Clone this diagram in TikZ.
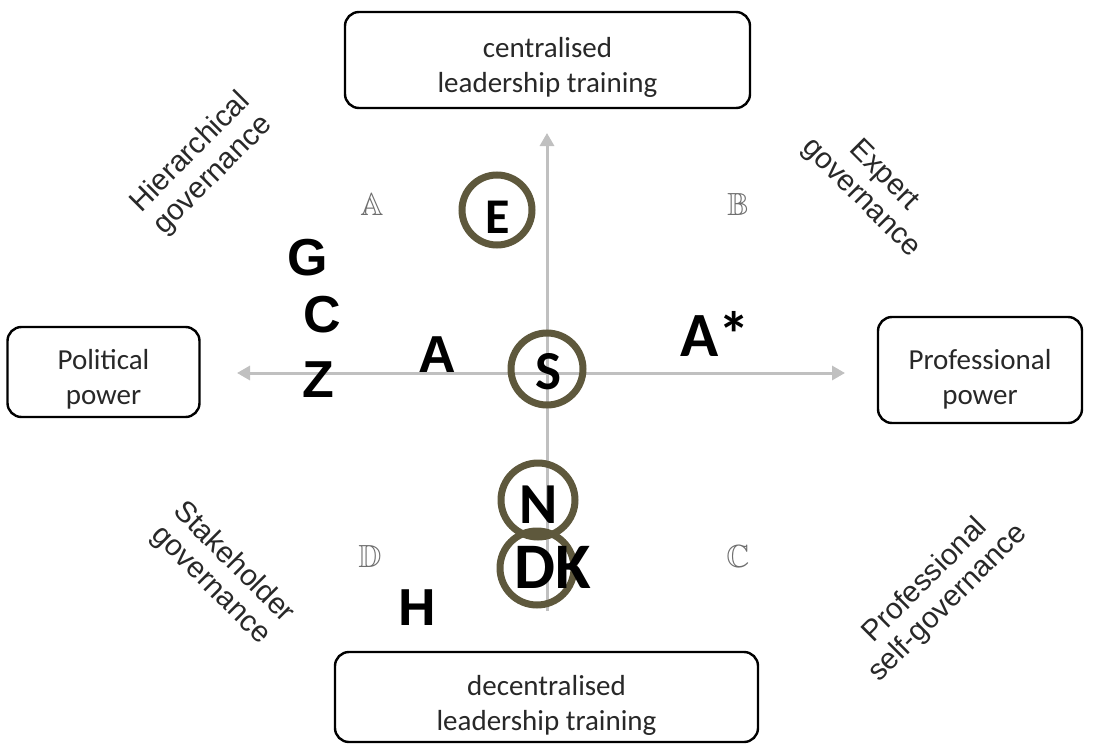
\documentclass[tikz,border=0pt]{standalone}
\usepackage{amssymb}
\usepackage{fontspec}
\setmainfont{Carlito}
\newfontfamily\arialf{Liberation Sans}
\usetikzlibrary{arrows.meta}
\definecolor{axisgray}{RGB}{192,192,192}
\definecolor{ringcol}{RGB}{94,88,60}
\definecolor{txtgray}{RGB}{40,40,40}
\definecolor{qdgray}{RGB}{110,110,110}
\begin{document}
\begin{tikzpicture}[x=1pt,y=-1pt,
  box/.style={draw=black, line width=2.4pt, rounded corners=14pt, inner sep=0pt, outer sep=0pt},
  boxtxt/.style={font=\fontsize{29}{35}\selectfont, text=txtgray, anchor=base, inner sep=0pt},
  govtxt/.style={font=\arialf\fontsize{29.5}{32}\selectfont, text=txtgray, align=center, inner sep=0pt},
  ring/.style={circle, draw=ringcol, line width=7pt, inner sep=0pt},
  cal/.style={font=\bfseries\fontsize{#1}{#1}\selectfont, anchor=base, inner sep=0pt},
  ari/.style={font=\arialf\bfseries\fontsize{#1}{#1}\selectfont, anchor=base, inner sep=0pt},
  qd/.style={font=\fontsize{32}{32}\selectfont, text=qdgray, anchor=base, inner sep=0pt},
  axis/.style={draw=axisgray, line width=3pt, -{Triangle[length=13pt,width=14pt]}}]
\useasboundingbox (0,0) rectangle (1093,744);
\fill[white] (0,0) rectangle (1093,744);

% boxes
\node[box, minimum width=405pt, minimum height=96pt] (topbox) at (547.5,60) {};
\node[boxtxt] (top1) at (547.5,57) {centralised};
\node[boxtxt] (top2) at (547.5,92) {leadership training};

\node[box, minimum width=423pt, minimum height=90pt] (botbox) at (546.5,697) {};
\node[boxtxt] (bot1) at (546.5,695) {decentralised};
\node[boxtxt] (bot2) at (546.5,730) {leadership training};

\node[box, minimum width=192pt, minimum height=90pt] (leftbox) at (103.5,372) {};
\node[boxtxt] (left1) at (103.5,369) {Political};
\node[boxtxt] (left2) at (103.5,404) {power};

\node[box, minimum width=204pt, minimum height=106pt] (rightbox) at (980,370) {};
\node[boxtxt] (right1) at (980,369) {Professional};
\node[boxtxt] (right2) at (980,404) {power};

% axes
\coordinate (origin) at (547,373);
\coordinate (leftTip) at (237,373);
\coordinate (rightTip) at (845,373);
\coordinate (topTip) at (547,133);
\coordinate (bottomEnd) at (547,611);
\draw[axis] (origin) -- (leftTip);
\draw[axis] (origin) -- (rightTip);
\draw[axis] (bottomEnd) -- (topTip);

% governance labels
\node[govtxt, rotate=45] (hier) at (202,164) {Hierarchical\\governance};
\node[govtxt, rotate=-45] (expert) at (872,187) {Expert\\governance};
\node[govtxt, rotate=-45] (stake) at (222,574) {Stakeholder\\governance};
\node[govtxt, rotate=45] (profself) at (937,592) {Professional\\self-governance};

% quadrant letters
\node[qd] (qA) at (372,215) {$\mathbb{A}$};
\node[qd] (qB) at (738,215) {$\mathbb{B}$};
\node[qd] (qD) at (370,567) {$\mathbb{D}$};
\node[qd] (qC) at (738,567) {$\mathbb{C}$};

% rings
\node[ring, minimum size=70pt] (cE) at (497,210) {};
\node[ring, minimum size=72pt] (cS) at (547,369) {};
\node[ring, minimum size=74pt] (cN) at (538,500) {};
\node[ring, minimum size=74pt] (cDK) at (537,568) {};

% letters
\node[cal=50] (lE) at (498,233) {E};
\node[cal=55] (lS) at (548,389) {S};
\node[cal=58] (lN) at (539,523) {N};
\node[cal=65] (lDK) at (553,588) {DK};
\node[cal=63] (lAs) at (715,356) {A*};
\node[ari=52] (lG) at (308,275) {G};
\node[ari=52] (lC) at (322,332) {C};
\node[ari=52] (lZ) at (318,397) {Z};
\node[ari=52] (lA) at (437,372) {A};
\node[ari=52] (lH) at (417,625) {H};
\end{tikzpicture}
\end{document}
